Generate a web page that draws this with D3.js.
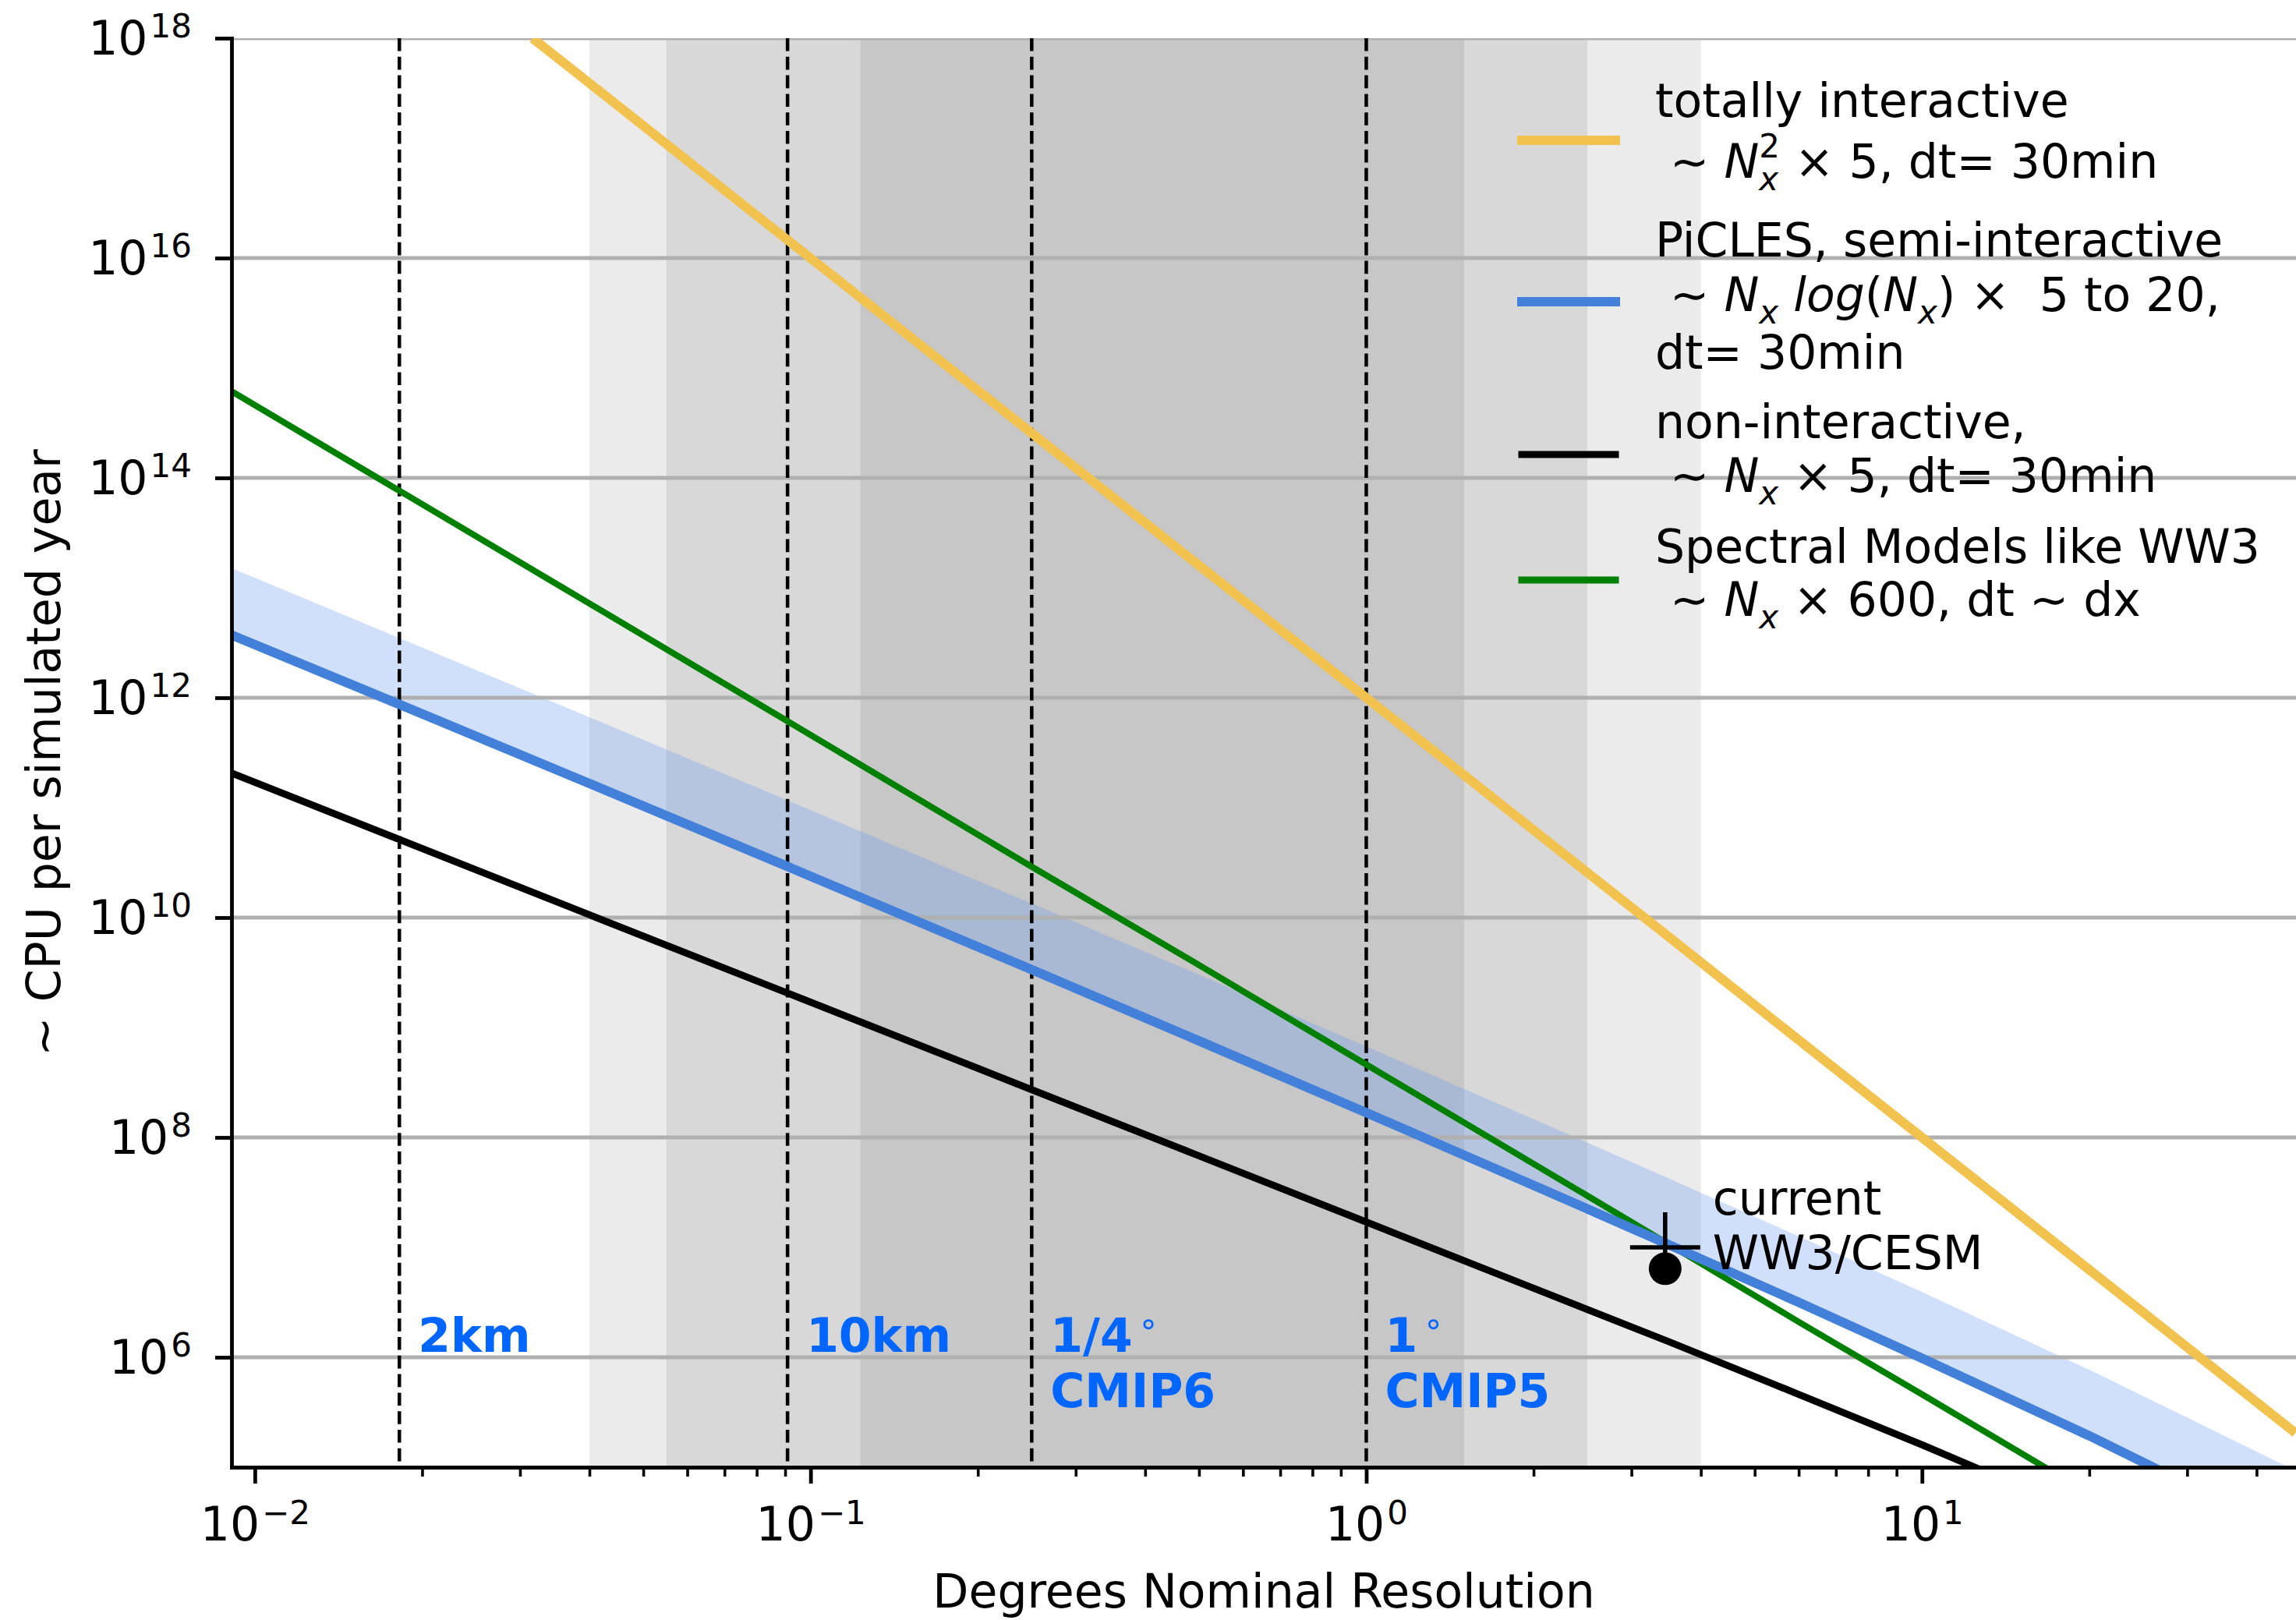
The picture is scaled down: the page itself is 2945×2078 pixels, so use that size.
<!DOCTYPE html>
<html>
<head>
<meta charset="utf-8">
<script src="https://cdn.jsdelivr.net/npm/d3@7"></script>
<style>
  html, body { margin: 0; padding: 0; background: #fff; }
  svg { display: block; }
  text { font-family: "DejaVu Sans", sans-serif; }
</style>
</head>
<body>
<svg id="chart" width="2945" height="2078"></svg>
<script>
// ---- Data: nominal resolution (degrees) vs CPU cost per simulated year ----
const resolutionDeg       = [0.009, 0.018, 0.04, 0.09, 0.25, 0.5, 1, 2, 3.5, 6, 10, 20, 47];
const semiInteractive     = [3.8e12, 8.9e11, 1.66e11, 2.98e10, 3.36e9, 7.56e8, 1.68e8, 3.67e7, 1.06e7, 3.16e6, 9.8e5, 1.93e5, 2.3e4];
const semiInteractiveHigh = [1.54e13, 3.58e12, 6.64e11, 1.19e11, 1.34e10, 3.02e9, 6.72e8, 1.47e8, 4.24e7, 1.26e7, 3.93e6, 7.7e5, 9.3e4];
const nonInteractive      = [2.1e11, 5.25e10, 1.06e10, 2.1e9, 2.72e8, 6.8e7, 1.7e7, 4.25e6, 1.39e6, 4.6e5, 1.6e5, 3.6e4, 5.5e3];
const spectralModels      = [6.3e14, 7.9e13, 7.2e12, 6.3e11, 2.9e10, 3.7e9, 4.6e8, 5.75e7, 1.07e7, 2.1e6, 4.6e5, 5.75e4, 4.4e3];
const totallyRes          = [0.0316, 0.04, 0.09, 0.25, 0.5, 1, 2, 3.5, 6, 10, 20, 47];
const totallyInteractive  = [1.0e18, 3.9e17, 1.52e16, 2.56e14, 1.6e13, 1.0e12, 6.25e10, 6.7e9, 7.7e8, 1.0e8, 6.25e6, 2.05e5];

// shaded resolution ranges (outer to inner)
const spanLow  = [0.04, 0.055, 0.123];
const spanHigh = [4, 2.5, 1.5];

// reference resolutions (dashed) and their labels
const refRes    = [0.0182, 0.0909, 0.25, 1];
const refTitle  = ["2km", "10km", "1/4", "1"];
const refDegree = [false, false, true, true];
const refSub    = ["", "", "CMIP6", "CMIP5"];

// present-day WW3/CESM cost
const currentRes  = 3.45;
const currentPlus = 1.0e7;
const currentDot  = 6.4e6;
const currentLabel = ["current", "WW3/CESM"];

const yTicks = [1e6, 1e8, 1e10, 1e12, 1e14, 1e16, 1e18];
const xTicks = [0.01, 0.1, 1, 10];
const xMinor = [0.02,0.03,0.04,0.05,0.06,0.07,0.08,0.09,
                0.2,0.3,0.4,0.5,0.6,0.7,0.8,0.9,
                2,3,4,5,6,7,8,9,20,30,40];

// ---- Layout ----
const W = 2945, H = 2078;
const L = 297, R = 2945, T = 49, B = 1882;
const FS = 60;

const svg = d3.select("#chart");
svg.append("rect").attr("width", W).attr("height", H).attr("fill", "#fff");

const x = d3.scaleLog().domain([0.00908, 47.1]).range([L, R]);
const y = d3.scaleLog().domain([1e5, 1e18]).range([B, T]);

svg.append("defs").append("clipPath").attr("id", "plotclip")
  .append("rect").attr("x", L).attr("y", T).attr("width", R - L).attr("height", B - T);

const plot = svg.append("g").attr("clip-path", "url(#plotclip)");

// shaded spans
const spanFill = ["#ebebeb", "#d8d8d8", "#c7c7c7"];
plot.selectAll("rect.span").data(spanLow).join("rect")
  .attr("class", "span")
  .attr("x", (d) => x(d))
  .attr("width", (d, i) => x(spanHigh[i]) - x(d))
  .attr("y", T).attr("height", B - T)
  .attr("fill", (d, i) => spanFill[i]);

// semi-interactive range band (x5 to x20)
const bandData = resolutionDeg.map((r, i) => ({ r, lo: semiInteractive[i], hi: semiInteractiveHigh[i] }));
plot.append("path").datum(bandData)
  .attr("d", d3.area().x((d) => x(d.r)).y0((d) => y(d.lo)).y1((d) => y(d.hi)))
  .attr("fill", "cornflowerblue").attr("fill-opacity", 0.3);

// horizontal grid
plot.selectAll("line.grid").data(yTicks).join("line")
  .attr("class", "grid")
  .attr("x1", L).attr("x2", R)
  .attr("y1", (d) => y(d)).attr("y2", (d) => y(d))
  .attr("stroke", "#b0b0b0").attr("stroke-width", 4.8);

// dashed reference lines
plot.selectAll("line.ref").data(refRes).join("line")
  .attr("class", "ref")
  .attr("x1", (d) => x(d)).attr("x2", (d) => x(d))
  .attr("y1", T).attr("y2", B)
  .attr("stroke", "#000").attr("stroke-width", 4.5)
  .attr("stroke-dasharray", "16.6,7.2");

// cost curves
const line = d3.line().x((d) => x(d[0])).y((d) => y(d[1]));
const series = [
  { xs: totallyRes,    ys: totallyInteractive, color: "#f2c24e", w: 12 },
  { xs: resolutionDeg, ys: semiInteractive,    color: "#4380d9", w: 12 },
  { xs: resolutionDeg, ys: nonInteractive,     color: "#000000", w: 9 },
  { xs: resolutionDeg, ys: spectralModels,     color: "#008000", w: 8 }
];
// draw order: spectral, non-interactive, semi, totally
[3, 2, 1, 0].forEach((k) => {
  const s = series[k];
  plot.append("path")
    .datum(s.xs.map((v, i) => [v, s.ys[i]]))
    .attr("d", line)
    .attr("fill", "none")
    .attr("stroke", s.color)
    .attr("stroke-width", s.w)
    .attr("stroke-linejoin", "round");
});

// current WW3/CESM markers
const cx = x(currentRes);
plot.append("circle").attr("cx", cx).attr("cy", y(currentDot)).attr("r", 21).attr("fill", "#000");
plot.append("path")
  .attr("d", `M${cx - 45},${y(currentPlus)}H${cx + 45}M${cx},${y(currentPlus) - 45}V${y(currentPlus) + 45}`)
  .attr("stroke", "#000").attr("stroke-width", 5.6).attr("fill", "none");

svg.selectAll("text.cur").data(currentLabel).join("text")
  .attr("class", "cur")
  .attr("x", cx + 61)
  .attr("y", (d, i) => 1558 + i * 70)
  .attr("font-size", FS).attr("fill", "#000")
  .text((d) => d);

// reference labels in blue
refRes.forEach((r, i) => {
  const t = svg.append("text")
    .attr("x", x(r) + 24).attr("y", 1734)
    .attr("font-size", FS).attr("font-weight", "bold").attr("fill", "#0066ff");
  t.append("tspan").text(refTitle[i]);
  if (refDegree[i]) {
    t.append("tspan").attr("dx", 7).attr("dy", -22)
      .attr("font-size", 42).attr("font-weight", "normal").text("\u2218");
  }
  if (refSub[i]) {
    svg.append("text")
      .attr("x", x(r) + 24).attr("y", 1805)
      .attr("font-size", FS).attr("font-weight", "bold").attr("fill", "#0066ff")
      .text(refSub[i]);
  }
});

// ---- Axes ----
const expStr = (d) => {
  const e = Math.round(Math.log10(d));
  return e < 0 ? "\u2212" + Math.abs(e) : String(e);
};

const yAxis = svg.append("g").attr("transform", `translate(${L},0)`)
  .call(d3.axisLeft(y).tickValues(yTicks).tickSize(21).tickSizeOuter(0).tickPadding(30))
  .attr("font-size", FS).attr("font-family", "DejaVu Sans, sans-serif");
yAxis.select(".domain").attr("stroke-width", 4.8).attr("stroke-linecap", "square");
yAxis.selectAll(".tick line").attr("stroke-width", 4.8);
yAxis.selectAll(".tick text").each(function (d) {
  const t = d3.select(this);
  t.text(null).attr("dy", null).attr("y", 20).attr("fill", "#000");
  t.append("tspan").text("10");
  t.append("tspan").attr("dx", 3).attr("dy", -22).attr("font-size", 42).text(expStr(d));
});

const xAxis = svg.append("g").attr("transform", `translate(0,${B})`)
  .call(d3.axisBottom(x).tickValues(xTicks).tickSize(21).tickSizeOuter(0))
  .attr("font-size", FS).attr("font-family", "DejaVu Sans, sans-serif");
xAxis.select(".domain").attr("stroke-width", 4.8).attr("stroke-linecap", "square");
xAxis.selectAll(".tick line").attr("stroke-width", 4.8);
xAxis.selectAll(".tick text").each(function (d) {
  const t = d3.select(this);
  t.text(null).attr("dy", null).attr("y", 94).attr("fill", "#000");
  t.append("tspan").text("10");
  t.append("tspan").attr("dx", 3).attr("dy", -21).attr("font-size", 42).text(expStr(d));
});

const xMinorAxis = svg.append("g").attr("transform", `translate(0,${B})`)
  .call(d3.axisBottom(x).tickValues(xMinor).tickSize(12).tickSizeOuter(0).tickFormat(""));
xMinorAxis.select(".domain").remove();
xMinorAxis.selectAll(".tick line").attr("stroke-width", 3.6);

// axis titles
svg.append("text")
  .attr("x", (L + R) / 2).attr("y", 2062)
  .attr("text-anchor", "middle").attr("font-size", FS).attr("fill", "#000")
  .text("Degrees Nominal Resolution");

svg.append("text")
  .attr("transform", `translate(77,${(T + B) / 2}) rotate(-90)`)
  .attr("text-anchor", "middle").attr("font-size", FS).attr("fill", "#000")
  .text("\u223c CPU per simulated year");

// ---- Legend ----
// One text element per line; math pieces are tspans shifted with dy.
// A "stack" piece is pulled back over the previous one (sub/superscript pair).
function richLine(g, x0, baseline, segs) {
  const t = g.append("text")
    .attr("x", x0).attr("y", baseline)
    .attr("font-size", FS).attr("fill", "#000")
    .style("white-space", "pre");
  let curShift = 0, prevW = 0;
  segs.forEach((s) => {
    const shift = s.shift || 0;
    const ts = t.append("tspan")
      .attr("dy", shift - curShift)
      .attr("font-size", s.small ? 42 : FS)
      .style("font-style", s.it ? "italic" : "normal")
      .text(s.t);
    if (s.stack) ts.attr("dx", -prevW);
    curShift = shift;
    prevW = ts.node().getComputedTextLength();
  });
}

const Nx = [{ t: "N", it: true }, { t: "x", it: true, small: true, shift: 16 }];
const legendEntries = [
  { color: "#f2c24e", w: 12, hy: 180, lines: [
      { y: 150, segs: [{ t: "totally interactive" }] },
      { y: 228, segs: [{ t: " \u223c " }, ...Nx, { t: "2", small: true, shift: -26, stack: true }, { t: " \u00d7 5, dt= 30min" }] }
  ]},
  { color: "#4380d9", w: 12, hy: 387, lines: [
      { y: 329, segs: [{ t: "PiCLES, semi-interactive" }] },
      { y: 399, segs: [{ t: " \u223c " }, ...Nx, { t: " " }, { t: "log", it: true }, { t: "(" }, ...Nx, { t: ")" }, { t: " \u00d7  5 to 20," }] },
      { y: 473, segs: [{ t: "dt= 30min" }] }
  ]},
  { color: "#000000", w: 9, hy: 583, lines: [
      { y: 562, segs: [{ t: "non-interactive," }] },
      { y: 631, segs: [{ t: " \u223c " }, ...Nx, { t: " \u00d7 5, dt= 30min" }] }
  ]},
  { color: "#008000", w: 9, hy: 744, lines: [
      { y: 722, segs: [{ t: "Spectral Models like WW3" }] },
      { y: 790, segs: [{ t: " \u223c " }, ...Nx, { t: " \u00d7 600, dt \u223c dx" }] }
  ]}
];

const legend = svg.append("g");
legendEntries.forEach((e) => {
  legend.append("line")
    .attr("x1", 1952).attr("x2", 2072)
    .attr("y1", e.hy).attr("y2", e.hy)
    .attr("stroke", e.color).attr("stroke-width", e.w)
    .attr("stroke-linecap", "square");
  e.lines.forEach((ln) => richLine(legend, 2123, ln.y, ln.segs));
});
</script>
</body>
</html>
